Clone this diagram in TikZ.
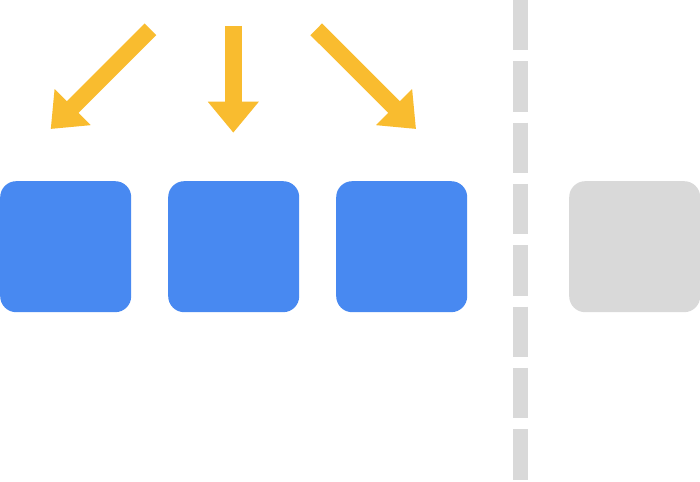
\documentclass[tikz,border=0pt]{standalone}
\usetikzlibrary{arrows.meta}
\definecolor{boxblue}{HTML}{4889F1}
\definecolor{boxgray}{HTML}{D9D9D9}
\definecolor{arrowyellow}{HTML}{F9BC2F}
\begin{document}
\begin{tikzpicture}[x=1pt,y=-1pt,
  square/.style={minimum width=131pt,minimum height=131pt,rounded corners=16pt,inner sep=0pt,draw=none,anchor=north west},
  bigarrow/.style={arrowyellow,line width=16.5pt,line cap=butt,-{Triangle[width=49pt,length=31pt]}}]
\useasboundingbox (0,0) rectangle (700,481);
\fill[white] (0,0) rectangle (700,481);
\node[square,fill=boxblue] (b1) at (0,181) {};
\node[square,fill=boxblue] (b2) at (168,181) {};
\node[square,fill=boxblue] (b3) at (336,181) {};
\node[square,fill=boxgray] (g1) at (569,181) {};
\coordinate (dtop) at (520,0);
\coordinate (dbot) at (520,481);
\draw[boxgray,line width=15pt,dash pattern=on 50.5pt off 10.8pt] (dtop) -- (dbot);
\coordinate (s1) at (150.5,29.3);
\coordinate (t1) at (50.7,129);
\coordinate (s2) at (233.3,26);
\coordinate (t2) at (233.3,132.7);
\coordinate (s3) at (316.2,29.3);
\coordinate (t3) at (416,129);
\draw[bigarrow] (s1) -- (t1);
\draw[bigarrow] (s2) -- (t2);
\draw[bigarrow] (s3) -- (t3);
\end{tikzpicture}
\end{document}
